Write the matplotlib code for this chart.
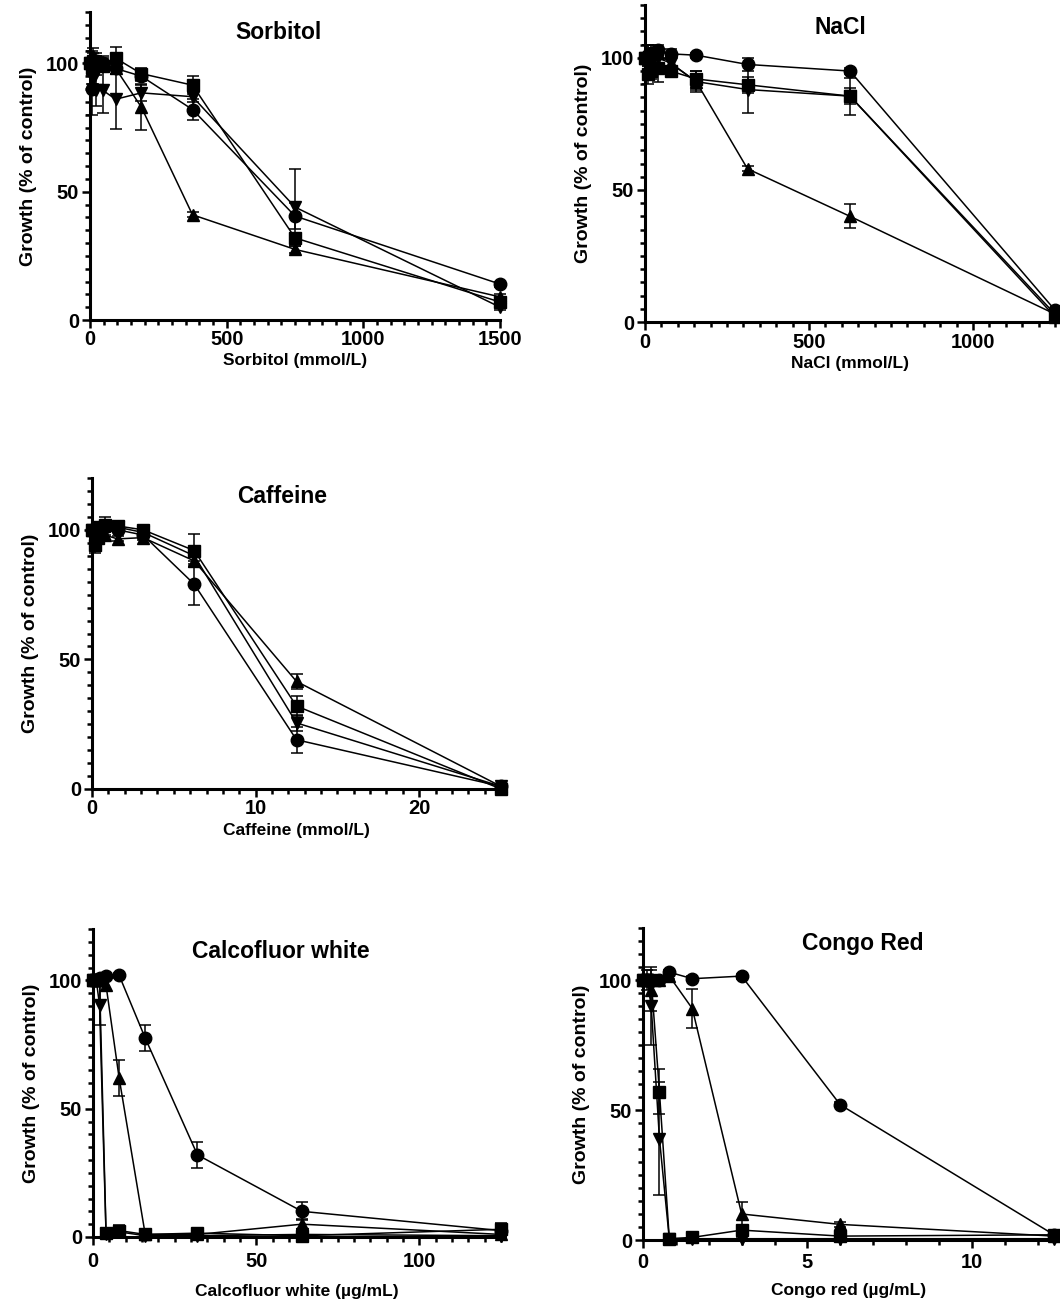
import matplotlib
matplotlib.use('Agg')
import matplotlib.pyplot as plt
from matplotlib.ticker import MultipleLocator

# ---- data ----
sorb_x = [0, 5.86, 11.7, 23.4, 46.9, 93.75, 187.5, 375, 750, 1500]
sorb_circ = [100, 90, 97, 101, 100, 98, 95, 82, 40.5, 14]
sorb_circ_e = [0, 10, 5, 3, 3, 2, 2, 4, 5, 1]
sorb_sq = [100, 98, 101, 100, 99, 102, 96, 91.5, 32, 7]
sorb_sq_e = [0, 3, 3, 3, 2, 4.5, 2, 3.5, 2, 1]
sorb_up = [100, 102, 103, 101, 100, 98, 83, 41, 27.5, 9]
sorb_up_e = [0, 3, 3, 2, 2, 2, 9, 1, 1.5, 1]
sorb_dn = [100, 96, 94, 89.5, 89.5, 86, 88.5, 87, 44, 5]
sorb_dn_e = [0, 4, 5, 6, 9, 11.5, 3, 2, 15, 1]

nacl_x = [0, 9.8, 19.5, 39, 78, 156, 312.5, 625, 1250]
nacl_circ = [100, 101, 102, 103, 101.5, 101, 97.5, 95, 4.5]
nacl_circ_e = [0, 4, 3, 2, 2, 1, 2.5, 1, 0.5]
nacl_sq = [100, 94, 95, 96, 95, 92, 89.8, 85.5, 2]
nacl_sq_e = [0, 4, 3, 5, 2, 3, 3, 7, 0.5]
nacl_up = [100, 101, 100, 102, 98, 91, 58, 40, 3]
nacl_up_e = [0, 4, 3, 2, 2, 3, 1, 4.5, 0.5]
nacl_dn = [100, 97, 98, 100, 98, 91, 88, 85.5, 3]
nacl_dn_e = [0, 5, 4, 3, 2, 4, 9, 3, 0.5]

caf_x = [0, 0.195, 0.39, 0.78, 1.5625, 3.125, 6.25, 12.5, 25]
caf_circ = [100, 98, 99, 101, 100, 98, 79, 19, 1]
caf_circ_e = [0, 2, 2, 2, 1, 1, 8, 5, 0.5]
caf_sq = [100, 94, 97, 102, 101.5, 100, 92, 32, 0]
caf_sq_e = [0, 3, 2, 3, 1, 1, 6.5, 4, 0]
caf_up = [100, 99, 100, 98, 96.5, 97, 88, 41.5, 1]
caf_up_e = [0, 2, 2, 2, 1, 1, 2, 3, 0.5]
caf_dn = [100, 99, 101, 100, 101, 99, 90, 25.5, 1]
caf_dn_e = [0, 2, 2, 2, 1, 1, 2, 3, 0.5]

cfw_x = [0, 1, 2, 4, 8, 16, 32, 64, 125]
cfw_circ = [100, 100, 101, 101.5, 102, 77.5, 32, 10, 2.5]
cfw_circ_e = [0, 1, 1, 1, 1, 5, 5, 3.5, 1]
cfw_sq = [100, 100, 100, 1.5, 2.5, 1, 1.5, 0.5, 3]
cfw_sq_e = [0, 1, 1, 1, 2, 1, 1, 0.5, 2.5]
cfw_up = [100, 100, 100, 98, 62, 1, 1, 5, 1]
cfw_up_e = [0, 1, 1, 2, 7, 1, 1, 2, 1]
cfw_dn = [100, 100, 90.5, 1, 2, 0.5, 0.5, 1, 0.5]
cfw_dn_e = [0, 1, 8, 1, 2, 0.5, 0.5, 1, 0.5]

cr_x = [0, 0.125, 0.25, 0.5, 0.8, 1.5, 3, 6, 12.5]
cr_circ = [100, 100, 100, 100, 103, 100.5, 101.5, 52, 2]
cr_circ_e = [0, 1, 1, 1, 1, 1, 1, 1, 0.5]
cr_sq = [100, 100, 100, 57, 0.5, 1, 3.8, 1.5, 2]
cr_sq_e = [0, 1, 1, 8.7, 0.5, 0.5, 1, 0.5, 1]
cr_up = [100, 100, 96, 100, 101.5, 89, 10, 6, 1.5]
cr_up_e = [0, 4, 8, 1, 1, 7.5, 4.8, 1, 0.5]
cr_dn = [100, 100, 90, 39, 0.5, 0.5, 0.5, 0.5, 0.5]
cr_dn_e = [0, 1, 15, 21.7, 0.5, 0.5, 0.5, 0.5, 0.5]

plt.rcParams['font.family'] = ['Liberation Sans', 'DejaVu Sans']
plt.rcParams['font.weight'] = 'bold'

fig = plt.figure(figsize=(10.6, 13.1), dpi=100)


def panel(rect, x, series, xmax, xmajor, xminor, title, title_pos, xlabel,
          tickpad=2, labelpad=1):
    ax = fig.add_axes(rect)
    for y, e, m, ms in series:
        c = ax.errorbar(x, y, yerr=e, color='black', lw=1.1, marker=m, ms=ms,
                        capsize=4, capthick=1.1, elinewidth=1.1, zorder=3)
        for art in c.get_children():
            art.set_clip_on(False)
    ax.set_xlim(0, xmax)
    ax.set_ylim(0, 120)
    ax.xaxis.set_major_locator(MultipleLocator(xmajor))
    ax.xaxis.set_minor_locator(MultipleLocator(xminor))
    ax.set_yticks([0, 50, 100])
    ax.yaxis.set_minor_locator(MultipleLocator(5))
    for s in ['top', 'right']:
        ax.spines[s].set_visible(False)
    for s in ['left', 'bottom']:
        ax.spines[s].set_linewidth(2.2)
    ax.tick_params(which='major', length=6, width=1.8, labelsize=14.5, pad=2)
    ax.tick_params(which='minor', length=3.5, width=1.8)
    ax.tick_params(axis='x', which='major', pad=tickpad)
    ax.set_xlabel(xlabel, fontsize=12.5, fontweight='bold', labelpad=labelpad)
    ax.set_ylabel('Growth (% of control)', fontsize=14, fontweight='bold', labelpad=6)
    ax.text(title_pos[0], title_pos[1], title, transform=ax.transAxes,
            ha='center', va='center', fontsize=16.5, fontweight='bold')
    return ax


W, H = 1060, 1310


def rect(x0, x1, y0, ytop):
    return [x0 / W, 1 - y0 / H, (x1 - x0) / W, (y0 - ytop) / H]


panel(rect(90, 500, 320, 12), sorb_x,
      [(sorb_circ, sorb_circ_e, 'o', 9), (sorb_sq, sorb_sq_e, 's', 8),
       (sorb_up, sorb_up_e, '^', 9), (sorb_dn, sorb_dn_e, 'v', 9)],
      1500, 500, 50, 'Sorbitol', (0.46, 0.935), 'Sorbitol (mmol/L)',
      tickpad=1, labelpad=3)

panel(rect(645, 1055, 322, 5), nacl_x,
      [(nacl_circ, nacl_circ_e, 'o', 9), (nacl_sq, nacl_sq_e, 's', 8),
       (nacl_up, nacl_up_e, '^', 9), (nacl_dn, nacl_dn_e, 'v', 9)],
      1250, 500, 50, 'NaCl', (0.476, 0.93), 'NaCl (mmol/L)',
      tickpad=2, labelpad=3)

panel(rect(92, 501, 789, 478), caf_x,
      [(caf_circ, caf_circ_e, 'o', 9), (caf_sq, caf_sq_e, 's', 8),
       (caf_up, caf_up_e, '^', 9), (caf_dn, caf_dn_e, 'v', 9)],
      25, 10, 1, 'Caffeine', (0.464, 0.939), 'Caffeine (mmol/L)',
      tickpad=1.5, labelpad=3)

panel(rect(93, 501, 1237, 929), cfw_x,
      [(cfw_circ, cfw_circ_e, 'o', 9), (cfw_sq, cfw_sq_e, 's', 8),
       (cfw_up, cfw_up_e, '^', 9), (cfw_dn, cfw_dn_e, 'v', 9)],
      125, 50, 5, 'Calcofluor white', (0.46, 0.926), 'Calcofluor white (µg/mL)',
      tickpad=5, labelpad=9)

panel(rect(643, 1054, 1240, 928), cr_x,
      [(cr_circ, cr_circ_e, 'o', 9), (cr_sq, cr_sq_e, 's', 8),
       (cr_up, cr_up_e, '^', 9), (cr_dn, cr_dn_e, 'v', 9)],
      12.5, 5, 1, 'Congo Red', (0.535, 0.949), 'Congo red (µg/mL)',
      tickpad=3, labelpad=8)

fig.savefig('out.png', dpi=100)
